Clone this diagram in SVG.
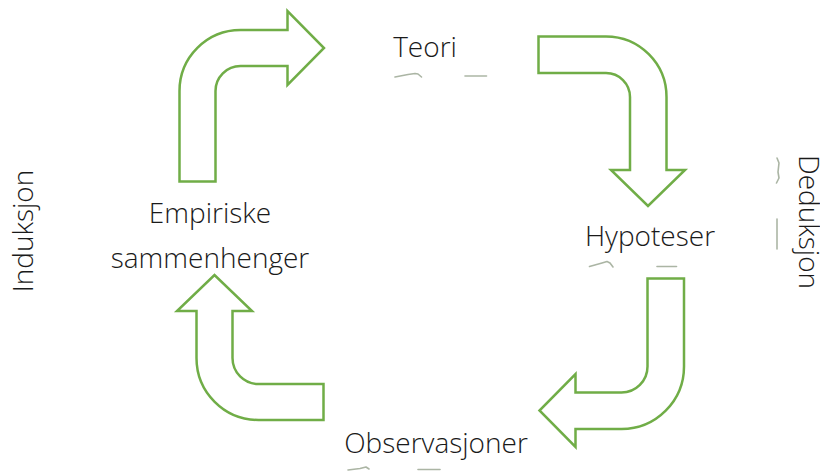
<svg xmlns="http://www.w3.org/2000/svg" width="820" height="473" viewBox="0 0 820 473">
  <style>
    .lbl { font-family: "Open Sans", "Liberation Sans", sans-serif; font-weight: 300; font-size: 28px; fill: #1a1a1a; text-anchor: middle; }
    .bent { fill: #ffffff; stroke: #70AD47; stroke-width: 2.5; stroke-linejoin: miter; }
    .trace { fill: none; stroke: #8f9c86; stroke-width: 1.6; stroke-linecap: round; stroke-linejoin: round; opacity: 0.75; }
  </style>
  <rect width="820" height="473" fill="#ffffff"/>

  <!-- bent arrows forming the cycle -->
  <g id="connectors">
    <path class="bent" d="M179.5,181.5 L179.5,91 A61,61 0 0 1 240.5,30 L287.5,30 L287.5,11 L324,48 L287.5,85 L287.5,66 L240.5,66 A25,25 0 0 0 215.5,91 L215.5,181.5 Z"/>
    <path class="bent" d="M538.5,36.5 L606,36.5 A60.5,60.5 0 0 1 666.5,97 L666.5,170 L685,170 L648,206 L611,170 L630,170 L630,97 A24,24 0 0 0 606,73 L538.5,73 Z"/>
    <path class="bent" d="M647.5,278.5 L684,278.5 L684,366.5 A62.5,62.5 0 0 1 621.5,429 L575.5,429 L575.5,447 L539.5,410.5 L575.5,374 L575.5,392.5 L621.5,392.5 A26,26 0 0 0 647.5,366.5 Z"/>
    <path class="bent" d="M323.5,384 L258.5,384 A26,26 0 0 1 232.5,358 L232.5,311 L252,311 L214.5,275 L177,311 L196.5,311 L196.5,358 A62,62 0 0 0 258.5,420 L323.5,420 Z"/>
  </g>

  <!-- faint strokes under the labels -->
  <g id="traces">
    <path class="trace" d="M395,77 L408,74.5 L415,73.5 L418,74 L421.5,77"/>
    <path class="trace" d="M465,76 L486.5,76"/>
    <path class="trace" d="M589.5,266.5 L602,263 L607,261.5 L610,263 L613,267"/>
    <path class="trace" d="M657,266.5 L676.5,266.5"/>
    <path class="trace" d="M348,470 L360,468.5 L366,467 L369,469"/>
    <path class="trace" d="M418,469.5 L440,469.5"/>
    <path class="trace" d="M777,158 L779,163 L778,172 L779,178 L776.5,183"/>
    <path class="trace" d="M777,219 L777,249"/>
  </g>

  <g id="teori">
    <text class="lbl" x="425" y="57">Teori</text>
  </g>
  <g id="hypoteser">
    <text class="lbl" x="650" y="246">Hypoteser</text>
  </g>
  <g id="observasjoner">
    <text class="lbl" x="436" y="453">Observasjoner</text>
  </g>
  <g id="empiriske-sammenhenger">
    <text class="lbl" x="210" y="223">Empiriske</text>
    <text class="lbl" x="210" y="268">sammenhenger</text>
  </g>
  <g id="induksjon">
    <text class="lbl" transform="translate(33,231) rotate(-90)">Induksjon</text>
  </g>
  <g id="deduksjon">
    <text class="lbl" transform="translate(799,222) rotate(90)">Deduksjon</text>
  </g>
</svg>
